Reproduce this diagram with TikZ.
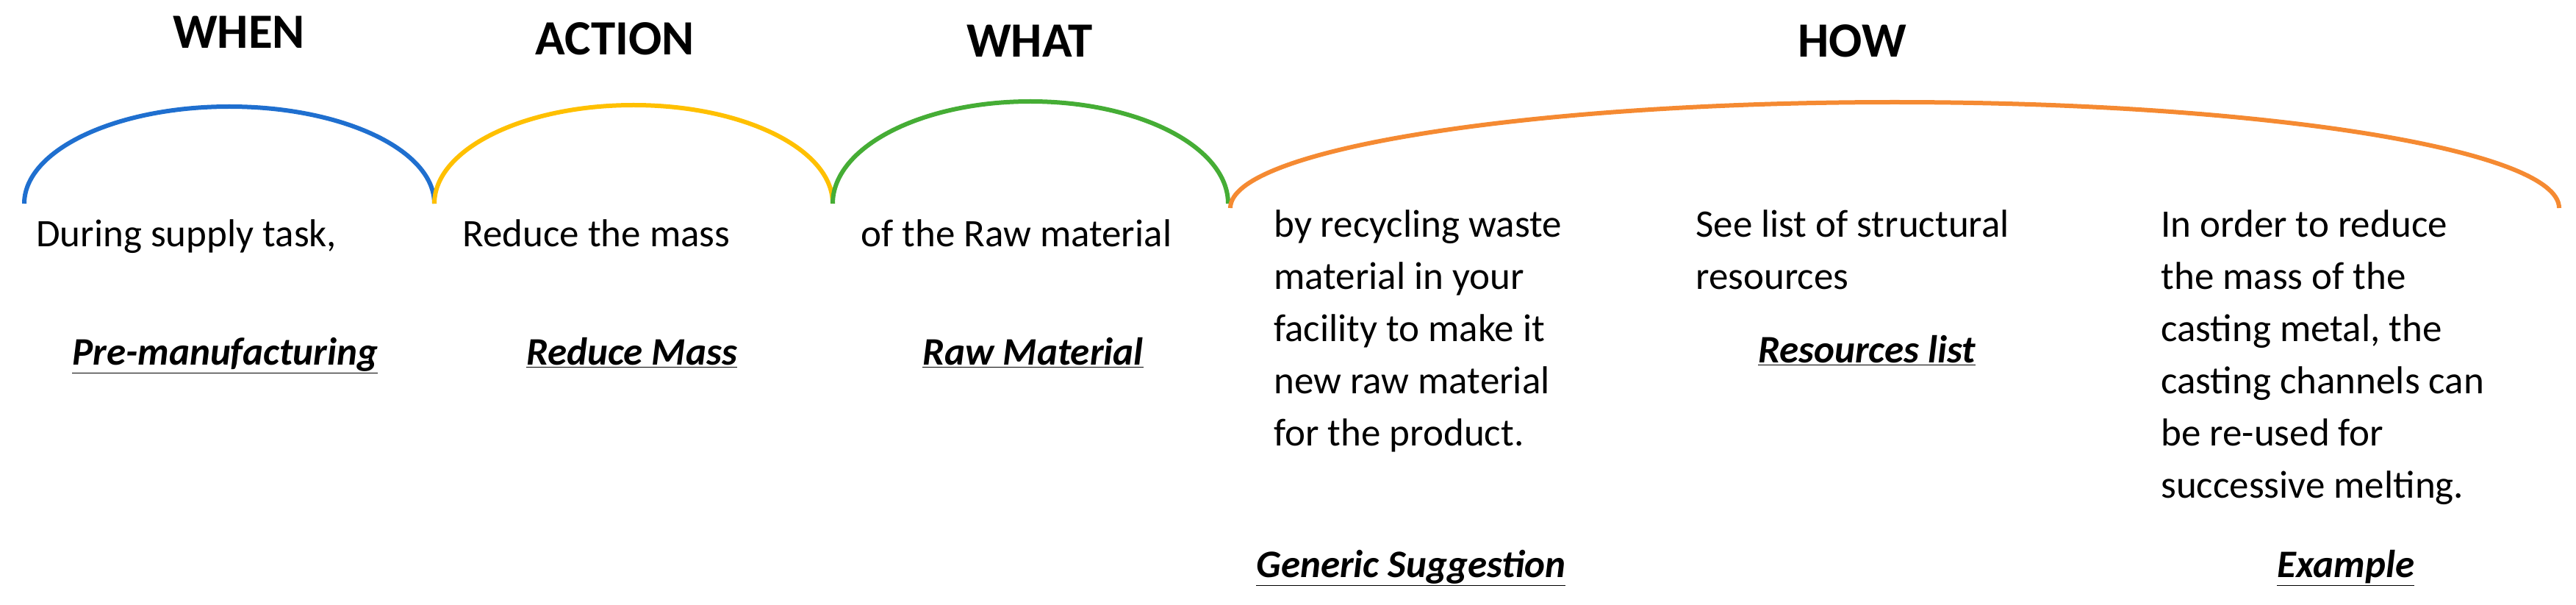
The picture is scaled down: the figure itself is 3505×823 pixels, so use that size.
\documentclass[tikz,border=0pt]{standalone}
\usepackage{fontspec}
\setmainfont{Carlito}
\definecolor{cblue}{HTML}{1F6FCF}
\definecolor{cyellow}{HTML}{FFC000}
\definecolor{cgreen}{HTML}{45AD35}
\definecolor{corange}{HTML}{F58A32}
\tikzset{
  arcline/.style={line width=3pt},
  title/.style={font=\fontsize{33.5}{40}\selectfont\bfseries, anchor=base, inner sep=0},
  body/.style={font=\fontsize{26.5}{35.5}\selectfont, anchor=base west, inner sep=0},
  mbody/.style={font=\fontsize{26.5}{35.5}\selectfont, anchor=north west, inner sep=0, align=left},
  tag/.style={font=\fontsize{26.5}{32}\selectfont\bfseries\itshape, anchor=base west, inner sep=0}
}
\newcommand{\ul}[1]{\underline{#1}}
\begin{document}
\begin{tikzpicture}[x=0.5pt,y=-0.5pt]
\useasboundingbox (0,0) rectangle (3505,823);
\draw[arcline,cblue] (33,277) arc[start angle=180,end angle=0,x radius=139.5pt,y radius=66pt];
\draw[arcline,cyellow] (591,277) arc[start angle=180,end angle=0,x radius=135.5pt,y radius=67pt];
\draw[arcline,cgreen] (1133,277) arc[start angle=180,end angle=0,x radius=134.5pt,y radius=69.5pt];
\draw[arcline,corange] (1674,283) arc[start angle=180,end angle=0,x radius=452pt,y radius=72pt];
\node[title] (t1) at (325,66) {WHEN};
\node[title] (t2) at (837,75) {ACTION};
\node[title] (t3) at (1401,78) {WHAT};
\node[title] (t4) at (2520,78) {HOW};
\node[body] (b1) at (49,336) {During supply task,};
\node[body] (b2) at (629,336) {Reduce the mass};
\node[body] (b3) at (1171,336) {of the Raw material};
\node[mbody] (b4) at (1733,285) {by recycling waste\\material in your\\facility to make it\\new raw material\\for the product.};
\node[mbody] (b5) at (2307,285) {See list of structural\\resources};
\node[mbody] (b6) at (2940,285) {In order to reduce\\the mass of the\\casting metal, the\\casting channels can\\be re-used for\\successive melting.};
\node[tag] (l1) at (98,496) {\ul{Pre-manufacturing}};
\node[tag] (l2) at (716,496) {\ul{Reduce Mass}};
\node[tag] (l3) at (1255,496) {\ul{Raw Material}};
\node[tag] (l4) at (2392,493) {\ul{Resources list}};
\node[tag] (l5) at (1709,785) {\ul{Generic Suggestion}};
\node[tag] (l6) at (3098,785) {\ul{Example}};
\end{tikzpicture}
\end{document}
